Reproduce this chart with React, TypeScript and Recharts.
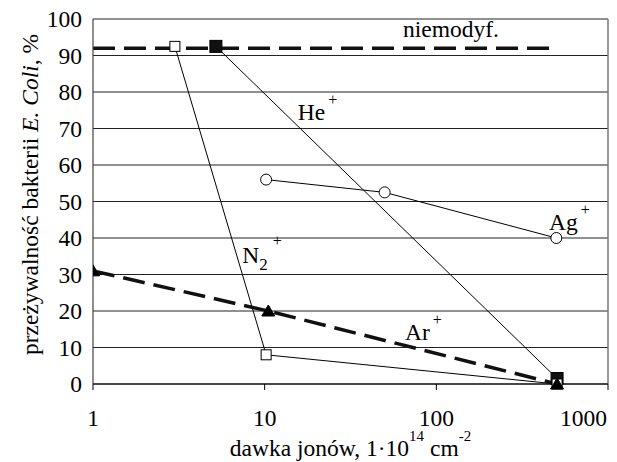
import React from 'react';
import {
  LineChart,
  Line,
  XAxis,
  YAxis,
  CartesianGrid,
  ReferenceLine,
  ReferenceDot,
  Label,
} from 'recharts';

const FONT = '"Liberation Serif", "Times New Roman", serif';
const FS = 23.5;

const xTicks = [1, 10, 100, 1000];
const yTicks = [0, 10, 20, 30, 40, 50, 60, 70, 80, 90, 100];

const niemodyf = [
  { x: 1, y: 92 },
  { x: 500, y: 92 },
];
const n2 = [
  { x: 3, y: 92.5 },
  { x: 10.2, y: 8 },
  { x: 505, y: 0 },
];
const he = [
  { x: 5.2, y: 92.5 },
  { x: 505, y: 1.5 },
];
const ag = [
  { x: 10.2, y: 56 },
  { x: 50, y: 52.5 },
  { x: 500, y: 40 },
];
const ar = [
  { x: 1, y: 31 },
  { x: 10.5, y: 20 },
  { x: 505, y: 0 },
];

type Annot = { id: string; base: string; sub?: string; sup?: string; x: number; y: number };
const annotations: Annot[] = [
  { id: 'nm', base: 'niemodyf.', x: 64, y: 95.2 },
  { id: 'he', base: 'He', sup: '+', x: 15.6, y: 72.3 },
  { id: 'ag', base: 'Ag', sup: '+', x: 453, y: 42.3 },
  { id: 'n2', base: 'N', sub: '2', sup: '+', x: 7.4, y: 33.1 },
  { id: 'ar', base: 'Ar', sup: '+', x: 65.7, y: 12 },
];

const renderAnnot = (a: Annot) => (p: any) => {
  const cx = p.cx;
  const cy = p.cy;
  return (
    <text x={cx} y={cy} fontFamily={FONT} fontSize={FS} fill="#000">
      {a.base}
      {a.sub ? (
        <tspan dy={7} fontSize={17}>
          {a.sub}
        </tspan>
      ) : null}
      {a.sup ? (
        <tspan dx={a.sub ? 5 : 3} dy={a.sub ? -24 : -15} fontSize={16}>
          {a.sup}
        </tspan>
      ) : null}
    </text>
  );
};

const OpenSquare = (p: any) => {
  if (p.cx == null || p.cy == null) return null;
  return (
    <rect
      key={`os-${p.index}`}
      x={p.cx - 5}
      y={p.cy - 5}
      width={10}
      height={10}
      fill="#fff"
      stroke="#000"
      strokeWidth={1}
    />
  );
};

const FilledSquare = (p: any) => {
  if (p.cx == null || p.cy == null) return null;
  return (
    <rect
      key={`fs-${p.index}`}
      x={p.cx - 6}
      y={p.cy - 6}
      width={12}
      height={12}
      fill="#111"
      stroke="#000"
      strokeWidth={1}
    />
  );
};

const OpenCircle = (p: any) => {
  if (p.cx == null || p.cy == null) return null;
  return (
    <circle key={`oc-${p.index}`} cx={p.cx} cy={p.cy} r={5.5} fill="#fff" stroke="#000" strokeWidth={1} />
  );
};

const Triangle = (p: any) => {
  if (p.cx == null || p.cy == null) return null;
  const { cx, cy } = p;
  return (
    <path
      key={`tr-${p.index}`}
      d={`M${cx},${cy - 6} L${cx + 6.5},${cy + 5} L${cx - 6.5},${cy + 5} Z`}
      fill="#000"
      stroke="#000"
    />
  );
};

const XTick = (p: any) => {
  const v = p.payload.value;
  const isLast = v === 1000;
  return (
    <text
      x={isLast ? p.x + 6 : p.x}
      y={p.y}
      dy="0.71em"
      textAnchor={isLast ? 'end' : 'middle'}
      fontFamily={FONT}
      fontSize={FS}
      fill="#000"
    >
      {v}
    </text>
  );
};

const YTick = (p: any) => (
  <text x={p.x} y={p.y} dy="0.35em" textAnchor="end" fontFamily={FONT} fontSize={FS} fill="#000">
    {p.payload.value}
  </text>
);

const XLabel = (p: any) => {
  const vb = p.viewBox || {};
  const cx = vb.x + vb.width / 2;
  const y = vb.y + 72;
  return (
    <text x={cx} y={y} textAnchor="middle" fontFamily={FONT} fontSize={FS} fill="#000">
      dawka jonów, 1·10
      <tspan dy={-15} fontSize={15}>
        14
      </tspan>
      <tspan dx={6} dy={15}>
        cm
      </tspan>
      <tspan dy={-15} fontSize={15}>
        -2
      </tspan>
    </text>
  );
};

const YLabel = (p: any) => {
  const vb = p.viewBox || {};
  const x = 38;
  const cy = vb.y + vb.height / 2 - 7;
  return (
    <text
      x={x}
      y={cy}
      transform={`rotate(-90 ${x} ${cy})`}
      textAnchor="middle"
      fontFamily={FONT}
      fontSize={FS}
      fill="#000"
    >
      przeżywalność bakterii <tspan fontStyle="italic">E. Coli</tspan>, %
    </text>
  );
};

export default function App() {
  return (
    <div style={{ position: 'absolute', left: 0, top: 0, background: '#fff' }}>
      <LineChart width={617} height={462} margin={{ top: 19, right: 9, bottom: 0, left: 0 }}>
        <CartesianGrid horizontal vertical={false} stroke="#222" strokeWidth={1.2} />
        <XAxis
          type="number"
          dataKey="x"
          scale="log"
          domain={[1, 1000]}
          ticks={xTicks}
          allowDataOverflow
          height={78}
          tickSize={6}
          tickMargin={19}
          tick={<XTick />}
          axisLine={{ stroke: '#000', strokeWidth: 1.2 }}
          tickLine={{ stroke: '#000' }}
        >
          <Label content={<XLabel />} />
        </XAxis>
        <YAxis
          type="number"
          domain={[0, 100]}
          ticks={yTicks}
          width={93}
          tickLine={false}
          tickSize={0}
          tickMargin={11}
          tick={<YTick />}
          axisLine={{ stroke: '#444', strokeWidth: 1.2 }}
        >
          <Label content={<YLabel />} />
        </YAxis>
        <ReferenceLine x={1000} stroke="#777" strokeWidth={1.5} />
        <Line
          data={niemodyf}
          dataKey="y"
          stroke="#111"
          strokeWidth={3.5}
          strokeDasharray="22 9"
          dot={false}
          isAnimationActive={false}
        />
        <Line
          data={he}
          dataKey="y"
          stroke="#000"
          strokeWidth={1}
          dot={<FilledSquare />}
          isAnimationActive={false}
        />
        <Line
          data={ag}
          dataKey="y"
          stroke="#000"
          strokeWidth={1}
          dot={<OpenCircle />}
          isAnimationActive={false}
        />
        <Line
          data={n2}
          dataKey="y"
          stroke="#000"
          strokeWidth={1}
          dot={<OpenSquare />}
          isAnimationActive={false}
        />
        <Line
          data={ar}
          dataKey="y"
          stroke="#111"
          strokeWidth={3.5}
          strokeDasharray="22 9"
          dot={<Triangle />}
          isAnimationActive={false}
        />
        {annotations.map((a) => (
          <ReferenceDot key={a.id} x={a.x} y={a.y} r={0} ifOverflow="visible" shape={renderAnnot(a)} />
        ))}
      </LineChart>
    </div>
  );
}
